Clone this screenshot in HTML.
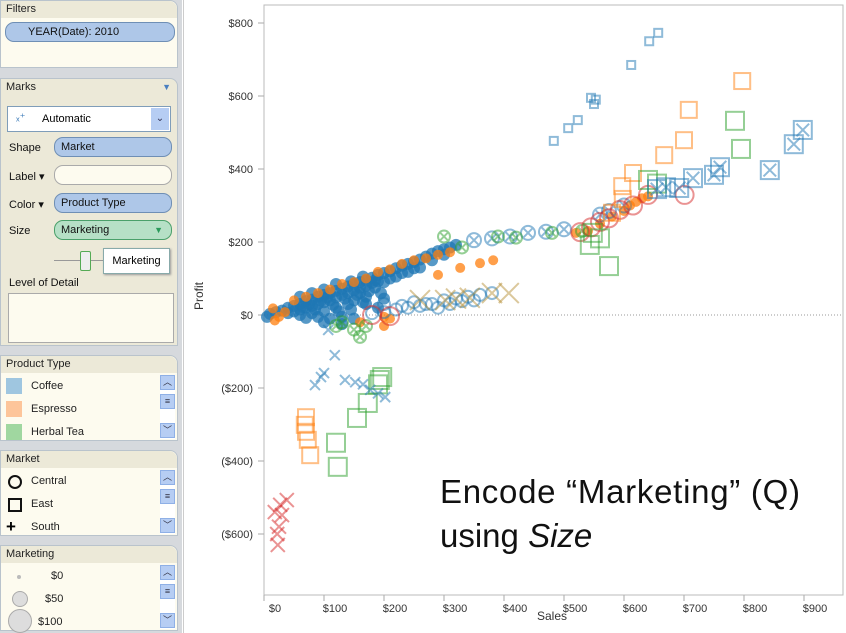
<!DOCTYPE html>
<html><head><meta charset="utf-8">
<style>
body{margin:0;width:846px;height:633px;overflow:hidden;background:#fff;font-family:"Liberation Sans",Arial,sans-serif;font-size:11px;position:relative}
.side{position:absolute;left:0;top:0;width:182px;height:633px;background:#d6d9dd}
.card{position:absolute;left:0;width:178px;background:#fdfbef;border:1px solid #b9c3cc;border-radius:0 8px 0 0;box-sizing:border-box}
.hdr{background:#ece9d8;height:17px;line-height:17px;padding-left:5px;color:#222;border-radius:0 8px 0 0}
.pill{position:absolute;border:1px solid #6f8fb5;background:#aec7e8;border-radius:9px;height:20px;line-height:18px;padding-left:6px;box-sizing:border-box;color:#111}
.lbl{position:absolute;left:8px;color:#111}
.item{position:absolute;left:30px;color:#222}
.sw{position:absolute;left:5px;width:16px;height:16px}
.sb{position:absolute;right:2px;width:15px;background:#fff}
.sbb{position:absolute;left:0;width:15px;height:15px;background:#b6cdf3;border:1px solid #8fb0e6;box-sizing:border-box;font-size:9px;text-align:center;line-height:13px;color:#334}
</style></head><body>
<div class="side">
 <div class="card" style="top:0;height:68px">
  <div class="hdr">Filters</div>
  <div class="pill" style="left:4px;top:21px;width:170px;padding-left:22px">YEAR(Date): 2010</div>
 </div>
 <div class="card" style="top:78px;height:268px;background:#ece9d8">
  <div class="hdr">Marks<span style="position:absolute;right:6px;top:0;color:#4a7fc0;font-size:9px">▼</span></div>
  <div style="position:absolute;left:6px;top:27px;width:164px;height:26px;background:#fff;border:1px solid #7f9db9;box-sizing:border-box"><span style="position:absolute;left:8px;top:4px;color:#3a7ab8;font-size:11px">ₓ⁺</span><span style="position:absolute;left:34px;top:6px">Automatic</span><span style="position:absolute;right:1px;top:1px;width:18px;height:22px;background:#b6cdf3;text-align:center;line-height:22px;font-size:10px;color:#335">⌄</span></div>
  <div class="lbl" style="top:63px">Shape</div><div class="pill" style="left:53px;top:58px;width:118px">Market</div>
  <div class="lbl" style="top:91px">Label ▾</div><div class="pill" style="left:53px;top:86px;width:118px;background:#fdfbef;border-color:#aaa"></div>
  <div class="lbl" style="top:119px">Color ▾</div><div class="pill" style="left:53px;top:114px;width:118px">Product Type</div>
  <div class="lbl" style="top:146px">Size</div><div class="pill" style="left:53px;top:141px;width:118px;background:#b6e0c6;border-color:#4aa06a">Marketing<span style="position:absolute;right:8px;color:#2a9a5a;font-size:9px">▼</span></div>
  <div style="position:absolute;left:53px;top:181px;width:110px;height:1px;background:#999"></div>
  <div style="position:absolute;left:79px;top:172px;width:9px;height:18px;background:#eee;border:1px solid #5a5;border-radius:2px"></div>
  <div style="position:absolute;left:102px;top:169px;width:65px;height:24px;background:#fff;border:1px solid #8aa;box-shadow:1px 1px 2px #999;line-height:24px;text-align:center">Marketing</div>
  <div class="lbl" style="top:198px">Level of Detail</div>
  <div style="position:absolute;left:7px;top:214px;width:164px;height:48px;background:#fdfbef;border:1px solid #aaa"></div>
 </div>
 <div class="card" style="top:355px;height:86px">
  <div class="hdr">Product Type</div>
  <div class="sw" style="top:22px;background:#9fc6e0"></div><div class="item" style="top:24px">Coffee</div>
  <div class="sw" style="top:45px;background:#fdc59a"></div><div class="item" style="top:47px">Espresso</div>
  <div class="sw" style="top:68px;background:#a0d7a0"></div><div class="item" style="top:70px">Herbal Tea</div>
  <div class="sb" style="top:19px;height:64px"><div class="sbb" style="top:0">︿</div><div class="sbb" style="top:19px">≡</div><div class="sbb" style="top:48px">﹀</div></div>
 </div>
 <div class="card" style="top:450px;height:86px">
  <div class="hdr">Market</div>
  <div style="position:absolute;left:7px;top:24px;width:10px;height:10px;border:2px solid #111;border-radius:50%"></div><div class="item" style="top:24px">Central</div>
  <div style="position:absolute;left:7px;top:47px;width:10px;height:10px;border:2px solid #111"></div><div class="item" style="top:47px">East</div>
  <div style="position:absolute;left:5px;top:66px;font-size:17px;font-weight:bold">+</div><div class="item" style="top:70px">South</div>
  <div class="sb" style="top:19px;height:64px"><div class="sbb" style="top:0">︿</div><div class="sbb" style="top:19px">≡</div><div class="sbb" style="top:48px">﹀</div></div>
 </div>
 <div class="card" style="top:545px;height:86px">
  <div class="hdr">Marketing</div>
  <div style="position:absolute;left:16px;top:29px;width:4px;height:4px;border-radius:50%;background:#bbb"></div><div class="item" style="top:24px;left:50px">$0</div>
  <div style="position:absolute;left:11px;top:45px;width:14px;height:14px;border-radius:50%;background:#ddd;border:1px solid #aaa"></div><div class="item" style="top:47px;left:44px">$50</div>
  <div style="position:absolute;left:7px;top:63px;width:22px;height:22px;border-radius:50%;background:#ddd;border:1px solid #aaa"></div><div class="item" style="top:70px;left:37px">$100</div>
  <div class="sb" style="top:19px;height:64px"><div class="sbb" style="top:0">︿</div><div class="sbb" style="top:19px">≡</div><div class="sbb" style="top:48px">﹀</div></div>
 </div>
</div>
<svg id="chart" width="846" height="633" style="position:absolute;left:0;top:0">
 <line x1="183.5" y1="0" x2="183.5" y2="633" stroke="#ccc"/>
 <rect x="264" y="5" width="579" height="590" fill="none" stroke="#bbb"/>
 <g id="axes"></g><g id="marks"></g>
 <text x="203" y="296" transform="rotate(-90 203 296)" text-anchor="middle" font-size="12" fill="#333">Profit</text>
 <text x="552" y="620" text-anchor="middle" font-size="12" fill="#333">Sales</text>
 <text x="440" y="503" font-size="33" fill="#111" textLength="360">Encode “Marketing” (Q)</text>
 <text x="440" y="547" font-size="33" fill="#111">using <tspan font-style="italic">Size</tspan></text>
</svg>
<script>
const xTicks=[0,100,200,300,400,500,600,700,800,900];
const yTicks=[800,600,400,200,0,-200,-400,-600];
const colors=["#1f77b4","#ff7f0e","#2ca02c","#d62728","#b8923a"];
const coffeeFilled=[[5,-5],[10,3],[20,8],[30,12],[40,20],[50,25],[60,30],[70,38],[80,42],[90,50],[100,55],[110,60],[120,66],[130,72],[140,78],[150,85],[160,90],[170,95],[180,102],[190,110],[200,115],[210,120],[220,128],[230,135],[240,140],[250,145],[260,152],[270,160],[280,168],[290,175],[300,180],[310,185],[320,192],[40,5],[50,10],[60,15],[70,20],[80,25],[90,30],[100,35],[110,40],[120,48],[130,55],[140,60],[150,68],[160,75],[170,80],[180,88],[190,92],[60,0],[80,5],[100,10],[120,20],[140,30],[90,-5],[110,-10],[130,-5],[70,-8],[100,-20],[130,-25],[150,-10],[160,60],[170,50],[100,70],[80,60],[120,85],[60,50],[200,90],[220,105],[240,118],[260,130],[150,40],[170,30],[190,20],[200,45],[85,15],[95,40],[115,28],[125,10],[135,45],[145,15],[155,55],[165,35],[175,65],[185,75],[195,60],[210,100],[230,115],[250,128],[75,30],[65,22],[105,48],[145,92],[165,105],[185,95],[280,150],[300,165]];
const espressoFilled=[[15,18],[18,-15],[25,-5],[35,8],[50,40],[70,50],[90,60],[110,70],[130,85],[150,90],[170,100],[190,118],[210,125],[230,140],[250,150],[270,155],[290,165],[310,172],[160,-20],[200,-5],[210,-10],[200,-30],[290,110],[327,129],[360,142],[382,150],[520,225],[540,230],[560,250],[580,270],[600,285],[610,300],[620,310],[630,320],[640,325]];
const coffeeCircleX=[[350,205],[380,210],[410,215],[440,225],[470,228],[500,235],[560,275],[575,285],[600,300]];
const lowBandCircles=[[180,5],[200,8],[220,15],[240,20],[260,25],[280,30],[300,40],[320,45],[340,50],[360,55],[380,60],[250,35],[270,30],[290,20],[310,30],[330,38],[350,40],[200,30],[230,25]];
const greenCircleX=[[300,215],[330,185],[390,215],[420,212],[150,-40],[160,-60],[130,-20],[170,-30],[120,-30],[480,225],[530,230]];
const redCircles=[[180,0],[210,-3],[640,329],[701,329],[593,288],[560,255],[527,227],[545,240],[575,265],[615,300]];
const coffeeSquares=[[483,477],[507,512],[523,534],[545,595],[550,578],[553,590],[612,685],[642,750],[657,773]];
const espressoSquares=[[708,562],[797,641],[667,438],[700,479],[615,389],[597,353],[598,318],[68,-301],[70,-320],[73,-342],[77,-384],[70,-280],[580,280]];
const greenSquares=[[785,532],[795,455],[575,134],[543,192],[548,225],[560,210],[640,370],[655,360],[120,-350],[123,-416],[155,-282],[173,-241],[193,-178],[197,-170],[190,-190]];
const coffeeBoxX=[[843,397],[883,468],[898,507],[750,384],[715,375],[692,348],[760,405],[655,345],[670,350]];
const redX=[[27,-520],[38,-507],[23,-630],[30,-548],[18,-540],[25,-580],[22,-600]];
const coffeeX=[[85,-192],[100,-159],[118,-110],[107,-41],[135,-178],[152,-184],[202,-225],[177,-205],[165,-190],[190,-215],[95,-170]];
const goldX=[[380,60],[408,60],[343,47],[302,41],[260,41],[320,45]];
const series=[
 {cat:0,shape:"f",size:6,pts:coffeeFilled},
 {cat:1,shape:"f",size:5,pts:espressoFilled},
 {cat:0,shape:"cx",size:7,pts:coffeeCircleX},
 {cat:0,shape:"c",size:6,pts:lowBandCircles},
 {cat:2,shape:"cx",size:6,pts:greenCircleX},
 {cat:3,shape:"c",size:9,pts:redCircles},
 {cat:0,shape:"s",size:4,pts:coffeeSquares},
 {cat:1,shape:"s",size:8,pts:espressoSquares},
 {cat:2,shape:"s",size:9,pts:greenSquares},
 {cat:0,shape:"sx",size:9,pts:coffeeBoxX},
 {cat:3,shape:"x",size:7,pts:redX},
 {cat:0,shape:"x",size:5,pts:coffeeX},
 {cat:4,shape:"x",size:10,pts:goldX}
];
const X=s=>264+s*0.6, Y=p=>315-p*0.365;
const NS="http://www.w3.org/2000/svg";
const ax=document.getElementById("axes"), mk=document.getElementById("marks");
function el(t,a,parent){const e=document.createElementNS(NS,t);for(const k in a)e.setAttribute(k,a[k]);parent.appendChild(e);return e;}
const zl=el("line",{x1:264,x2:843,y1:Y(0),y2:Y(0),stroke:"#999","stroke-dasharray":"1,2"},ax);


xTicks.forEach(v=>{el("line",{x1:X(v),x2:X(v),y1:595,y2:601,stroke:"#aaa"},ax);
 const t=el("text",{x:X(v)+11,y:612,"text-anchor":"middle","font-size":11,fill:"#333"},ax);t.textContent="$"+v;
 
 });
yTicks.forEach(v=>{el("line",{x1:258,x2:264,y1:Y(v),y2:Y(v),stroke:"#aaa"},ax);
 const t=el("text",{x:253,y:Y(v)+4,"text-anchor":"end","font-size":11,fill:"#333"},ax);t.textContent=v<0?"($"+(-v)+")":"$"+v;
 
 });
series.forEach(s=>{const c=colors[s.cat];s.pts.forEach(p=>{
 const x=X(p[0]),y=Y(p[1]),r=s.size;
 const g=el("g",{opacity:s.shape=="f"?0.75:0.5,stroke:c,fill:"none","stroke-width":2},mk);
 
 
 if(s.shape=="f")el("circle",{cx:x,cy:y,r:r,fill:c,stroke:"none"},g);
 if(s.shape=="c"||s.shape=="cx")el("circle",{cx:x,cy:y,r:r},g);
 if(s.shape=="s"||s.shape=="sx")el("rect",{x:x-r,y:y-r,width:2*r,height:2*r},g);
 if(s.shape=="x"||s.shape=="cx"||s.shape=="sx"){const k=s.shape=="x"?r:r*0.7;
  el("path",{d:`M${x-k},${y-k}L${x+k},${y+k}M${x-k},${y+k}L${x+k},${y-k}`},g);}
});});
</script>
</body></html>
